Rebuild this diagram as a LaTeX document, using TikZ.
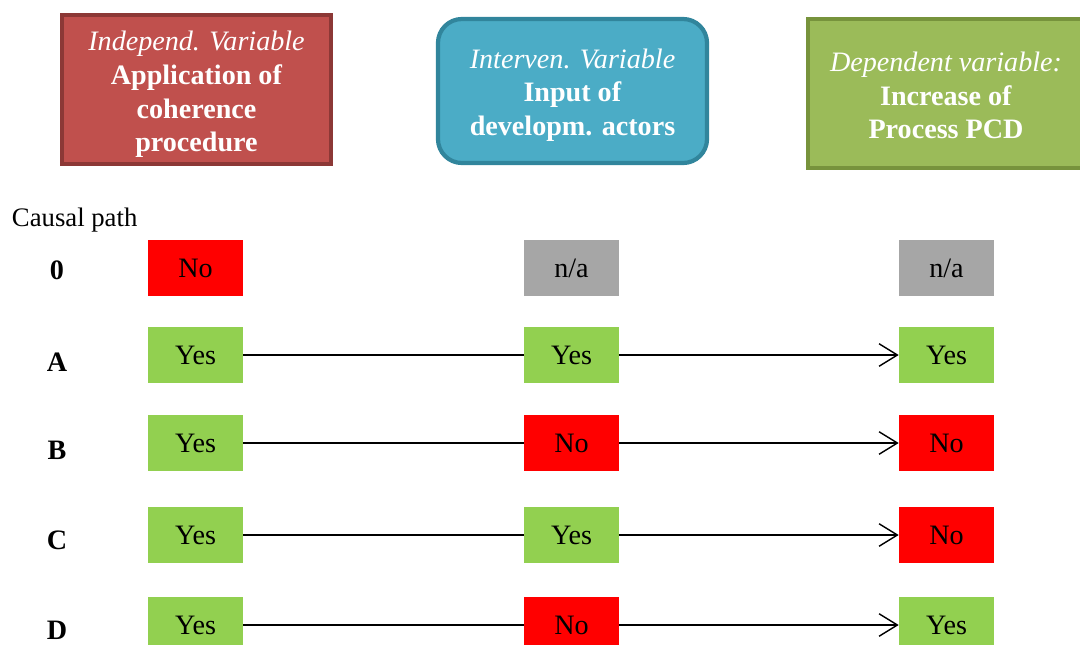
\documentclass[tikz,border=0pt]{standalone}
\usepackage{fontspec}
\setmainfont{Liberation Serif}
\usetikzlibrary{arrows.meta}
\definecolor{indepfill}{HTML}{C0504D}
\definecolor{indepline}{HTML}{8C3836}
\definecolor{intervfill}{HTML}{4BACC6}
\definecolor{intervline}{HTML}{31859C}
\definecolor{depfill}{HTML}{9BBB59}
\definecolor{depline}{HTML}{77933C}
\definecolor{cellgreen}{HTML}{92D050}
\definecolor{cellred}{HTML}{FF0000}
\definecolor{cellgray}{HTML}{A6A6A6}

\begin{document}
\begin{tikzpicture}[x=0.025cm,y=-0.025cm,
    header/.style={draw,line width=3pt,inner sep=0pt},
    headtext/.style={text=white,align=center,inner sep=0pt,
      font=\fontsize{20}{24}\selectfont},
    cell/.style={minimum width=2.375cm,minimum height=1.4cm,inner sep=0pt,
      font=\fontsize{20}{24}\selectfont},
    yes/.style={cell,fill=cellgreen},
    no/.style={cell,fill=cellred},
    na/.style={cell,fill=cellgray},
    pathlabel/.style={font=\fontsize{20}{24}\selectfont\bfseries},
    link/.style={line width=1pt},
    effect/.style={link,-{Straight Barb[length=13pt,width=16pt,line width=1pt]}}]
  \useasboundingbox (0,0) rectangle (1080,645);

  \node[header,fill=indepfill,draw=indepline,minimum width=6.725cm,minimum height=3.725cm]
    (indep) at (196.5,89.5) {};
  \node[headtext] (indeptext) at (196.5,94.5)
    {\textit{Independ. Variable}\\\textbf{Application of}\\\textbf{coherence}\\\textbf{procedure}};
  \node[header,fill=intervfill,draw=intervline,rounded corners=0.6cm,
    minimum width=6.725cm,minimum height=3.6cm]
    (interv) at (572.5,91) {};
  \node[headtext] (intervtext) at (572.5,95)
    {\textit{Interven. Variable}\\\textbf{Input of}\\\textbf{developm. actors}};
  \node[header,fill=depfill,draw=depline,minimum width=6.9cm,minimum height=3.725cm]
    (dep) at (946,93.5) {};
  \node[headtext] (deptext) at (946,95.5)
    {\textit{Dependent variable:}\\\textbf{Increase of}\\\textbf{Process PCD}};

  \node[anchor=west,font=\fontsize{19}{23}\selectfont] (causal) at (7,220) {Causal path};

  \node[pathlabel] (p0) at (57,270) {0};
  \node[pathlabel] (pA) at (57,362) {A};
  \node[pathlabel] (pB) at (57,450) {B};
  \node[pathlabel] (pC) at (57,540) {C};
  \node[pathlabel] (pD) at (57,630) {D};

  \node[no]  (r0a) at (195.5,268) {No};
  \node[na]  (r0b) at (571.5,268) {n/a};
  \node[na]  (r0c) at (946.5,268) {n/a};

  \node[yes] (rAa) at (195.5,355) {Yes};
  \node[yes] (rAb) at (571.5,355) {Yes};
  \node[yes] (rAc) at (946.5,355) {Yes};

  \node[yes] (rBa) at (195.5,443) {Yes};
  \node[no]  (rBb) at (571.5,443) {No};
  \node[no]  (rBc) at (946.5,443) {No};

  \node[yes] (rCa) at (195.5,535) {Yes};
  \node[yes] (rCb) at (571.5,535) {Yes};
  \node[no]  (rCc) at (946.5,535) {No};

  \node[yes] (rDa) at (195.5,625) {Yes};
  \node[no]  (rDb) at (571.5,625) {No};
  \node[yes] (rDc) at (946.5,625) {Yes};

  \draw[link] (rAa) -- (rAb);
  \draw[effect] (rAb) -- (rAc);
  \draw[link] (rBa) -- (rBb);
  \draw[effect] (rBb) -- (rBc);
  \draw[link] (rCa) -- (rCb);
  \draw[effect] (rCb) -- (rCc);
  \draw[link] (rDa) -- (rDb);
  \draw[effect] (rDb) -- (rDc);
\end{tikzpicture}
\end{document}
